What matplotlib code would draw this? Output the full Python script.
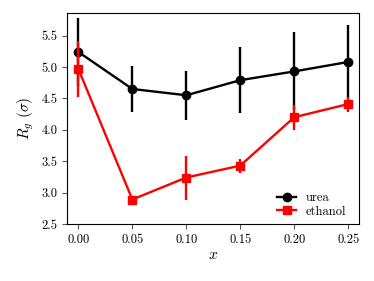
import numpy as np
import matplotlib
matplotlib.use('Agg')
import matplotlib.pyplot as plt

# Data
x = [0.00, 0.05, 0.10, 0.15, 0.20, 0.25]
urea = [5.24, 4.65, 4.55, 4.79, 4.93, 5.08]
urea_err = [0.54, 0.36, 0.39, 0.53, 0.62, 0.59]
ethanol = [4.97, 2.89, 3.24, 3.43, 4.20, 4.41]
ethanol_err = [0.44, 0.05, 0.35, 0.11, 0.20, 0.12]
xticks = [0.00, 0.05, 0.10, 0.15, 0.20, 0.25]
yticks = [2.5, 3.0, 3.5, 4.0, 4.5, 5.0, 5.5]

plt.rcParams['font.family'] = 'serif'
plt.rcParams['font.serif'] = ['cmr10', 'DejaVu Serif']
plt.rcParams['mathtext.fontset'] = 'cm'
plt.rcParams['axes.formatter.use_mathtext'] = True

fig = plt.figure(figsize=(3.74, 2.81), dpi=100)
ax = fig.add_axes([67 / 374, 57 / 281, 292 / 374, 211 / 281])

# error bars first, then the lines with markers (used for the legend)
ax.errorbar(x, urea, yerr=urea_err, color='black', fmt='none',
            elinewidth=1.7, capsize=0)
ax.plot(x, urea, color='black', marker='o', markersize=6, linewidth=1.7,
        label='urea')
ax.errorbar(x, ethanol, yerr=ethanol_err, color='red', fmt='none',
            elinewidth=1.7, capsize=0)
ax.plot(x, ethanol, color='red', marker='s', markersize=6, linewidth=1.7,
        label='ethanol')

ax.set_xlim(-0.0105, 0.26)
ax.set_ylim(2.5, 5.86)
ax.set_xticks(xticks)
ax.set_xticklabels(['%.2f' % v for v in xticks])
ax.set_yticks(yticks)
ax.set_yticklabels(['%.1f' % v for v in yticks])
ax.tick_params(labelsize=9, length=3.5, color='#555555')
ax.set_xlabel(r'$x$', fontsize=11, labelpad=2)
ax.set_ylabel(r'$R_g\ (\sigma)$', fontsize=11, labelpad=4)
for s in ax.spines.values():
    s.set_linewidth(0.8)

ax.legend(loc='lower right', bbox_to_anchor=(1.0, -0.03), frameon=False,
          fontsize=9, handlelength=1.5, handletextpad=0.8, labelspacing=0.1,
          borderaxespad=0.6)

fig.savefig('out.png', dpi=100)
